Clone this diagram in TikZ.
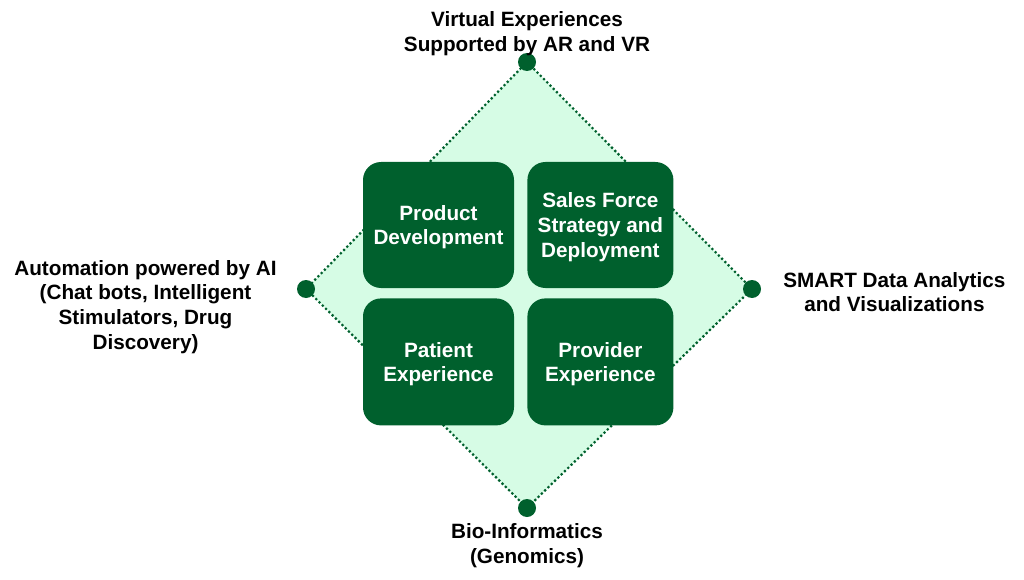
\documentclass[tikz,border=0pt]{standalone}
\usepackage{fontspec}
\setmainfont{Liberation Sans}
\usetikzlibrary{positioning}
\definecolor{darkgreen}{RGB}{0,96,45}
\definecolor{mint}{RGB}{214,252,229}
\begin{document}
\begin{tikzpicture}[x=1pt, y=-1pt,
    every node/.style = {font=\fontsize{20.7}{24.8}\selectfont\bfseries},
    tile/.style = {fill=darkgreen, text=white, rounded corners=18pt, minimum width=151pt, minimum height=126pt, align=center, inner sep=0pt, text depth=-1.5pt},
    knob/.style = {circle, fill=darkgreen, minimum size=18pt, inner sep=0pt},
    caption/.style = {align=center, inner sep=0pt}]
    \useasboundingbox (0,0) rectangle (1024,580);
    \coordinate (t) at (527,62);
    \coordinate (r) at (752,289);
    \coordinate (b) at (527,508);
    \coordinate (l) at (306,289);
    \draw[darkgreen, fill=mint, line width=2.2pt, dash pattern=on 2.2pt off 2.4pt] (t) -- (r) -- (b) -- (l) -- cycle;
    \node[knob] (tdot) at (t) {};
    \node[knob] (rdot) at (r) {};
    \node[knob] (bdot) at (b) {};
    \node[knob] (ldot) at (l) {};
    \node[caption, above=-3pt of tdot] (virtual) {Virtual Experiences\\Supported by AR and VR};
    \node[caption, left=20pt of ldot, yshift=-18pt] (automation) {Automation powered by AI\\(Chat bots, Intelligent\\Stimulators, Drug\\Discovery)};
    \node[caption, right=22pt of rdot, yshift=-3pt] (smart) {SMART Data Analytics\\and Visualizations};
    \node[caption, below=6pt of bdot] (bio) {Bio-Informatics\\(Genomics)};
    \node[tile] (product) at (438.5,225) {Product\\Development};
    \node[tile, minimum width=146pt, right=13pt of product] (sales) {Sales Force\\Strategy and\\Deployment};
    \node[tile, minimum height=127pt, below=10pt of product] (patient) {Patient\\Experience};
    \node[tile, minimum width=146pt, minimum height=127pt, below=10pt of sales] (provider) {Provider\\Experience};
\end{tikzpicture}
\end{document}
